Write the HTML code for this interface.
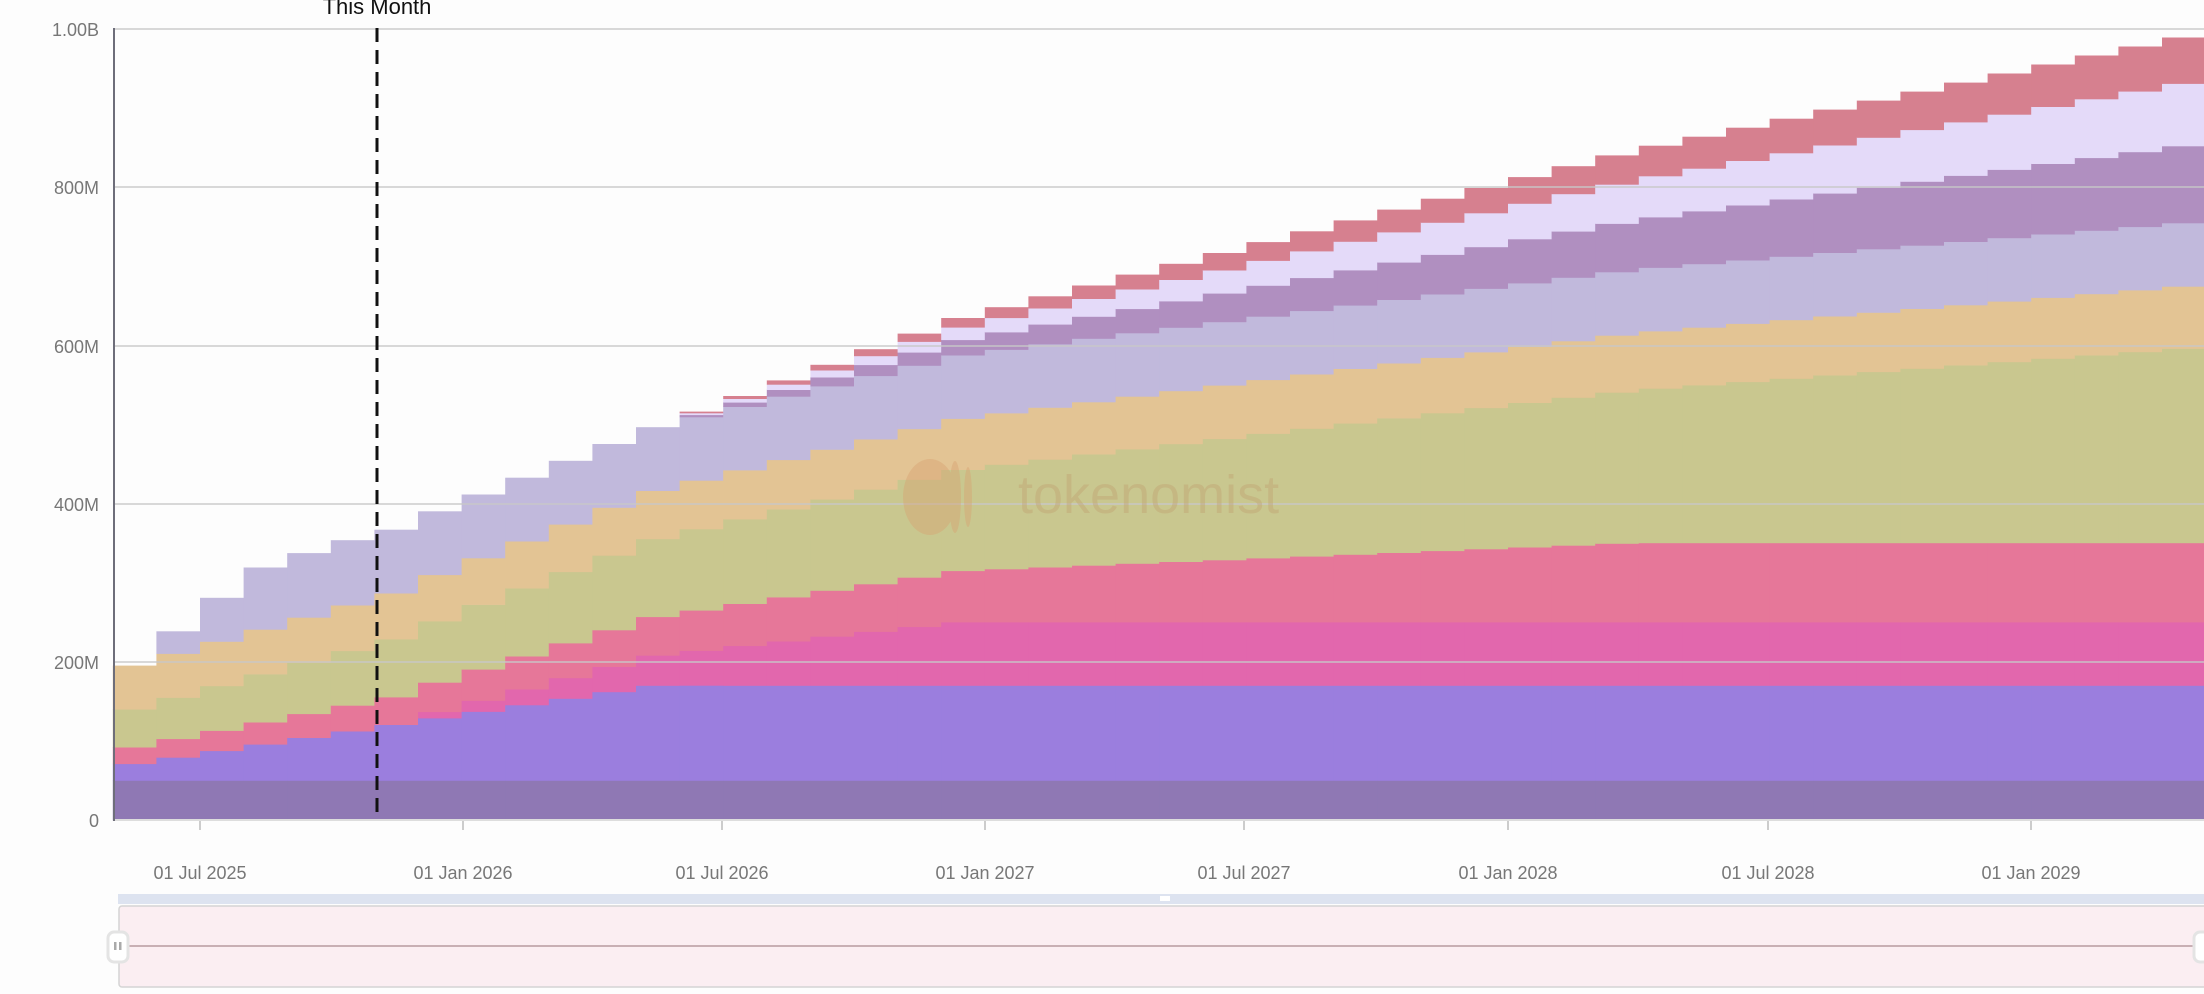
<!DOCTYPE html>
<html><head><meta charset="utf-8"><style>
html,body{margin:0;padding:0;background:#fdfdfd;}
svg{display:block;font-family:"Liberation Sans",sans-serif;}
</style></head><body>
<svg id="c" width="2204" height="994" viewBox="0 0 2204 994" xmlns="http://www.w3.org/2000/svg">
<rect width="2204" height="994" fill="#fdfdfd"/>
<g id="bars"></g>
<g stroke="#c8c8c8" stroke-opacity="0.7" stroke-width="2">
<line x1="113" y1="29" x2="2204" y2="29"/>
<line x1="113" y1="187" x2="2204" y2="187"/>
<line x1="113" y1="346" x2="2204" y2="346"/>
<line x1="113" y1="504" x2="2204" y2="504"/>
<line x1="113" y1="662" x2="2204" y2="662"/>
</g>
<line x1="113" y1="820" x2="2204" y2="820" stroke="#ddd" stroke-width="2"/>
<line x1="114" y1="28" x2="114" y2="821" stroke="#6e6e7a" stroke-width="2"/>
<g stroke="#ccc" stroke-width="2">
<line x1="200" y1="821" x2="200" y2="830"/><line x1="463" y1="821" x2="463" y2="830"/>
<line x1="722" y1="821" x2="722" y2="830"/><line x1="985" y1="821" x2="985" y2="830"/>
<line x1="1244" y1="821" x2="1244" y2="830"/><line x1="1508" y1="821" x2="1508" y2="830"/>
<line x1="1768" y1="821" x2="1768" y2="830"/><line x1="2031" y1="821" x2="2031" y2="830"/>
</g>
<g fill="#777" font-size="18" text-anchor="end">
<text x="99" y="36">1.00B</text><text x="99" y="194">800M</text><text x="99" y="353">600M</text>
<text x="99" y="511">400M</text><text x="99" y="669">200M</text><text x="99" y="827">0</text>
</g>
<g fill="#777" font-size="18" text-anchor="middle">
<text x="200" y="879">01 Jul 2025</text><text x="463" y="879">01 Jan 2026</text>
<text x="722" y="879">01 Jul 2026</text><text x="985" y="879">01 Jan 2027</text>
<text x="1244" y="879">01 Jul 2027</text><text x="1508" y="879">01 Jan 2028</text>
<text x="1768" y="879">01 Jul 2028</text><text x="2031" y="879">01 Jan 2029</text>
</g>
<g opacity="0.4">
<ellipse cx="930" cy="497" rx="27" ry="38" fill="#d9a070"/>
<ellipse cx="955" cy="497" rx="6" ry="36" fill="#d9a070"/>
<ellipse cx="968" cy="497" rx="4" ry="30" fill="#d9a070"/>
<text x="1018" y="513" font-size="54" fill="#c0a070">tokenomist</text>
</g>
<line x1="377" y1="28" x2="377" y2="820" stroke="#111" stroke-width="3" stroke-dasharray="14,8"/>
<text x="377" y="14" font-size="22" fill="#111" text-anchor="middle">This Month</text>
<rect x="118" y="894" width="2090" height="10" fill="#dde3f0"/>
<rect x="119" y="906" width="2090" height="81" rx="3" fill="#fbeef2" stroke="#d4d4d4" stroke-width="1.5"/>
<line x1="119" y1="946" x2="2204" y2="946" stroke="#b89aa0" stroke-width="1.5"/>
<rect x="108" y="932" width="20" height="30" rx="6" fill="#fff" stroke="#e4e4e4" stroke-width="3"/>
<rect x="114" y="942" width="2.5" height="8" fill="#aaa"/><rect x="119" y="942" width="2.5" height="8" fill="#aaa"/>
<rect x="2194" y="932" width="20" height="30" rx="6" fill="#fff" stroke="#e4e4e4" stroke-width="3"/>
<rect x="1160" y="896" width="10" height="5" fill="#fff"/>
</svg>
<script>
(function(){
var g=document.getElementById('bars');
var cols=['#8f78b4','#9b7ede','#e267ad','#e67799','#c9c78f','#e3c494','#c1b9dc','#b08fc0','#e4daf9','#d6808f'];
var lavSeq=[0,28,55,78,81,82];
var W=43.6,x0=112.8,yb=820,k=0.792;
var s='';
for(var i=0;i<48;i++){
 var t=[50,Math.min(170,71+8.25*i)-50,
  i<7?0:Math.min(80,8+6*(i-7)),
  Math.min(100,21+2.3*i),
  48+4.2*i,
  55+0.5*i,
  i<6?lavSeq[i]:80,
  i<13?0:2.78*(i-12),
  i<13?0:2.25*(i-12),
  i<13?0:1.66*(i-12)];
 var x=x0+i*W, w=W+0.6, cum=0;
 for(var j=0;j<t.length;j++){
  if(t[j]<=0)continue;
  var y1=yb-(cum+t[j])*k, h=t[j]*k; cum+=t[j];
  s+='<rect x="'+x.toFixed(1)+'" y="'+y1.toFixed(1)+'" width="'+w.toFixed(1)+'" height="'+(h+0.4).toFixed(1)+'" fill="'+cols[j]+'"/>';
 }
}
g.innerHTML=s;
})();
</script>
</body></html>
